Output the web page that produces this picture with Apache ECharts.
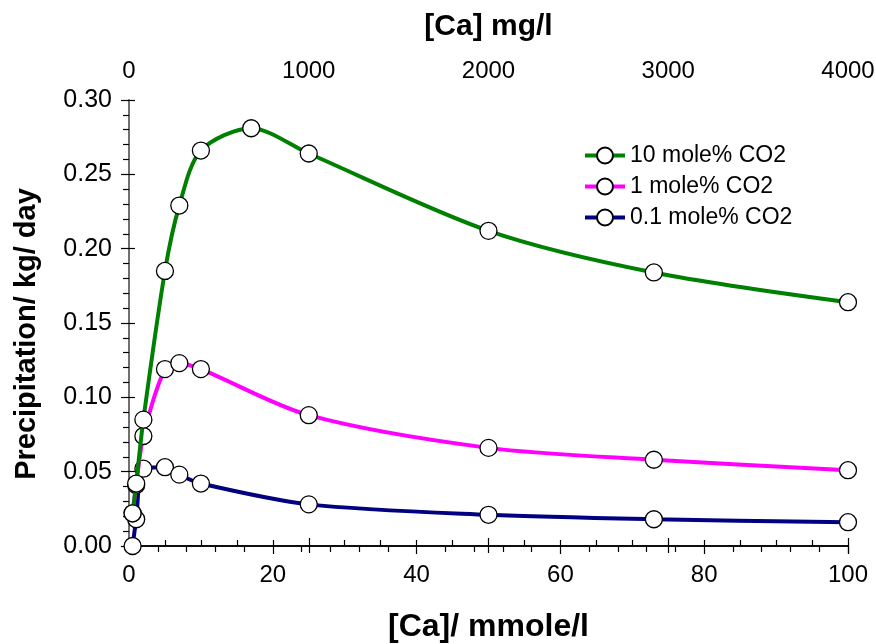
<!DOCTYPE html>
<html><head><meta charset="utf-8">
<script src="https://cdn.jsdelivr.net/npm/echarts@6/dist/echarts.min.js"></script>
<style>html,body{margin:0;padding:0;background:#fff}#c{width:876px;height:644px}</style>
</head><body><div id="c"></div><script>
const seriesNames = ['10 mole% CO2', '1 mole% CO2', '0.1 mole% CO2'];
const seriesColors = ['#008000', '#ff00ff', '#000080'];
const xGreen = [0.5, 1, 2, 5, 7, 10, 17, 25, 50, 73, 100];
const yGreen = [0.022, 0.042, 0.085, 0.185, 0.229, 0.266, 0.281, 0.264, 0.212, 0.184, 0.164];
const xMagenta = [0.5, 1, 2, 5, 7, 10, 25, 50, 73, 100];
const yMagenta = [0.022, 0.041, 0.074, 0.119, 0.123, 0.119, 0.088, 0.066, 0.058, 0.051];
const xBlue = [0.5, 1, 2, 5, 7, 10, 25, 50, 73, 100];
const yBlue = [0.0, 0.018, 0.052, 0.053, 0.048, 0.042, 0.028, 0.021, 0.018, 0.016];

const xs = [xGreen, xMagenta, xBlue];
const ys = [yGreen, yMagenta, yBlue];
const font = 'Liberation Sans, Arial, sans-serif';

const chart = echarts.init(document.getElementById('c'), null, {renderer: 'canvas'});
const series = seriesNames.map((n, i) => ({
  name: n, type: 'line', xAxisIndex: 0, yAxisIndex: 0,
  data: xs[i].map((x, j) => [x, ys[i][j]]),
  smooth: 0.3,
  lineStyle: {color: seriesColors[i], width: 4},
  itemStyle: {color: '#fff', borderColor: '#000', borderWidth: 1.3},
  symbol: 'circle', symbolSize: 17, showSymbol: true,
  z: 3 - i
}));

const tickStyle = {color: '#000', width: 1.2};
chart.setOption({
  animation: false,
  backgroundColor: '#fff',
  grid: {left: 129, right: 28, top: 100, bottom: 98, containLabel: false, outerBoundsMode: 'none'},
  legend: {
    orient: 'vertical', left: 578, top: 139, itemWidth: 40, itemHeight: 20, itemGap: 8,
    lineStyle: {width: 4},
    textStyle: {fontFamily: font, fontSize: 23, color: '#000'},
    data: seriesNames
  },
  xAxis: [
    {type: 'value', position: 'bottom', min: 0, max: 100, interval: 20,
     name: '[Ca]/ mmole/l', nameLocation: 'middle', nameGap: 65,
     nameTextStyle: {fontFamily: font, fontSize: 32, fontWeight: 'bold', color: '#000'},
     axisLine: {show: true, lineStyle: {color: '#000', width: 1.5}},
     axisTick: {show: true, length: 8, lineStyle: tickStyle},
     minorTick: {show: true, splitNumber: 5, length: 6, lineStyle: tickStyle},
     splitLine: {show: false},
     axisLabel: {fontFamily: font, fontSize: 24, color: '#000', margin: 17}},
    {type: 'value', position: 'top', min: 0, max: 4000, interval: 1000,
     name: '[Ca] mg/l', nameLocation: 'middle', nameGap: 58,
     nameTextStyle: {fontFamily: font, fontSize: 30, fontWeight: 'bold', color: '#000'},
     axisLine: {show: true, lineStyle: {color: '#000', width: 1.5}},
     axisTick: {show: true, length: 8, lineStyle: tickStyle},
     minorTick: {show: true, splitNumber: 5, length: 6, lineStyle: tickStyle},
     splitLine: {show: false},
     axisLabel: {fontFamily: font, fontSize: 24, color: '#000', margin: 17,
                 formatter: v => String(v)}},
    {type: 'value', position: 'top', min: 0, max: 4000, interval: 1000,
     axisLine: {show: false},
     axisTick: {show: true, inside: true, length: 7, lineStyle: tickStyle},
     splitLine: {show: false}, axisLabel: {show: false}}
  ],
  yAxis: [
    {type: 'value', position: 'left', min: 0, max: 0.3, interval: 0.05,
     name: 'Precipitation/ kg/ day', nameLocation: 'middle', nameGap: 88,
     nameTextStyle: {fontFamily: font, fontSize: 29, fontWeight: 'bold', color: '#000',
                     padding: [0, 22, 0, 0]},
     axisLine: {show: true, lineStyle: {color: '#000', width: 1.5}},
     axisTick: {show: true, length: 8, lineStyle: tickStyle},
     minorTick: {show: true, splitNumber: 5, length: 6, lineStyle: tickStyle},
     splitLine: {show: false},
     axisLabel: {fontFamily: font, fontSize: 25, color: '#000', margin: 17,
                 formatter: v => v.toFixed(2)}},
    {type: 'value', position: 'right', min: 0, max: 0.3, interval: 0.05,
     axisLine: {show: true, lineStyle: {color: '#808080', width: 1.5}},
     axisTick: {show: false}, axisLabel: {show: false}, splitLine: {show: false}},
    {type: 'value', position: 'left', min: 0, max: 0.3, interval: 0.05,
     axisLine: {show: false},
     axisTick: {show: true, inside: true, length: 6, lineStyle: tickStyle},
     axisLabel: {show: false}, splitLine: {show: false}}
  ],
  series: series
});
</script></body></html>
